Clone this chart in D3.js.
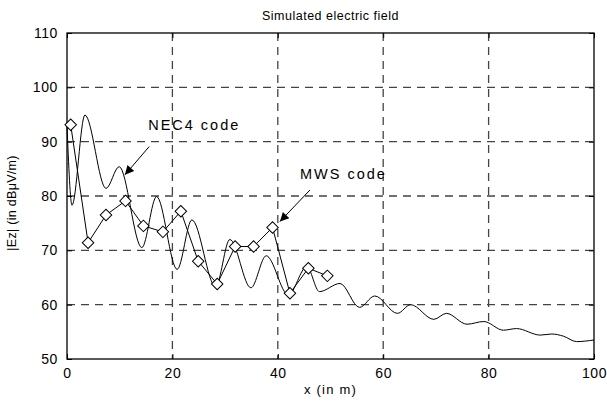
<!DOCTYPE html>
<html><head><meta charset="utf-8">
<script src="https://cdn.jsdelivr.net/npm/d3@7"></script>
<style>
body{margin:0;background:#fff;}
text{font-family:"Liberation Sans",Arial,sans-serif;fill:#000;}
</style></head>
<body><svg id="c" width="607" height="401"></svg>
<script>
const necX = [0,0.95,3.4,7.4,9.9,14.2,17.0,20.9,23.7,28.2,30.9,34.9,37.8,42.0,45.5,47.9,51.8,55.5,58.4,62.7,65.2,69.6,72.0,75.9,79.1,82.8,85.3,89.8,92.0,94.2,96.7,100];
const necY = [93,78.3,94.9,81.4,85.4,70.5,79.9,66.5,75.6,63.3,72.0,63.1,69.0,61.8,67.0,62.4,63.9,59.5,61.6,58.4,60.0,57.3,58.4,56.4,56.9,55.3,55.6,54.4,54.6,54.2,53.2,53.5];
const mwsX = [0.7,4.0,7.4,11.1,14.5,18.2,21.6,24.9,28.5,31.9,35.4,39.0,42.3,45.8,49.4];
const mwsY = [93.1,71.4,76.5,79.1,74.5,73.4,77.2,68.0,63.8,70.7,70.7,74.2,62.1,66.7,65.3];
const xTicks = [0,20,40,60,80,100];
const yTicks = [50,60,70,80,90,100,110];
const title = "Simulated electric field";
const xLabel = "x (in m)";
const yLabel = "|Ez| (in dBμV/m)";
const notes = [
  {text:"NEC4 code", tx:15.4, ty:92.1, ax0:15.6, ay0:89.1, ax1:11.0, ay1:83.9},
  {text:"MWS code", tx:44.2, ty:83.1, ax0:46.1, ay0:81.1, ax1:40.4, ay1:75.3}
];

const svg = d3.select("#c");
const L=67,R=594,T=33,B=359;
const x = d3.scaleLinear().domain([0,100]).range([L,R]);
const y = d3.scaleLinear().domain([50,110]).range([B,T]);

// grid
const g = svg.append("g");
g.selectAll(".gx").data(xTicks.slice(1,-1)).enter().append("line")
 .attr("x1",d=>x(d)).attr("x2",d=>x(d)).attr("y1",T).attr("y2",B)
 .attr("stroke","#444").attr("stroke-width",1.3).attr("stroke-dasharray","8,6");
g.selectAll(".gy").data(yTicks.slice(1,-1)).enter().append("line")
 .attr("y1",d=>y(d)).attr("y2",d=>y(d)).attr("x1",L).attr("x2",R)
 .attr("stroke","#444").attr("stroke-width",1.3).attr("stroke-dasharray","8,6");

// axes
const fs="14px";
const ax = svg.append("g").attr("transform",`translate(0,${B})`).call(d3.axisBottom(x).tickValues(xTicks).tickSize(-5).tickPadding(9));
const axT = svg.append("g").attr("transform",`translate(0,${T})`).call(d3.axisTop(x).tickValues(xTicks).tickSize(-5).tickFormat(""));
const ay = svg.append("g").attr("transform",`translate(${L},0)`).call(d3.axisLeft(y).tickValues(yTicks).tickSize(-5).tickPadding(9));
const ayR = svg.append("g").attr("transform",`translate(${R},0)`).call(d3.axisRight(y).tickValues(yTicks).tickSize(-5).tickFormat(""));
[ax,axT,ay,ayR].forEach(a=>{a.select(".domain").remove();a.selectAll("line").attr("stroke","#000");
  a.selectAll("text").style("font-size",fs).style("letter-spacing","0.6px").style("font-family","'Liberation Sans',Arial,sans-serif").attr("fill","#000");});
svg.append("rect").attr("x",L).attr("y",T).attr("width",R-L).attr("height",B-T).attr("fill","none").attr("stroke","#000").attr("stroke-width",1.3);

// lines
const line = d3.line().x(d=>x(d[0])).y(d=>y(d[1]));
const nec = necX.map((v,i)=>[v,necY[i]]);
svg.append("path").datum(nec).attr("d",line.curve(d3.curveMonotoneX)).attr("fill","none").attr("stroke","#000").attr("stroke-width",1);
const mws = mwsX.map((v,i)=>[v,mwsY[i]]);
svg.append("path").datum(mws).attr("d",d3.line().x(d=>x(d[0])).y(d=>y(d[1]))).attr("fill","none").attr("stroke","#000").attr("stroke-width",1);
const sym = d3.symbol().type(d3.symbolSquare).size(66);
svg.selectAll(".m").data(mws).enter().append("path").attr("d",sym)
 .attr("transform",d=>`translate(${x(d[0])},${y(d[1])}) rotate(45)`)
 .attr("fill","#fff").attr("stroke","#000").attr("stroke-width",1);

// annotations
const defs = svg.append("defs");
defs.append("marker").attr("id","ah").attr("viewBox","0 0 10 10").attr("refX",10).attr("refY",5)
 .attr("markerWidth",14).attr("markerHeight",9).attr("markerUnits","userSpaceOnUse").attr("orient","auto")
 .append("path").attr("d","M0,0L10,5L0,10Z").attr("fill","#000");
notes.forEach(n=>{
  svg.append("line").attr("x1",x(n.ax0)).attr("y1",y(n.ay0)).attr("x2",x(n.ax1)).attr("y2",y(n.ay1))
   .attr("stroke","#000").attr("stroke-width",1).attr("marker-end","url(#ah)");
  svg.append("text").attr("x",x(n.tx)).attr("y",y(n.ty)).text(n.text).style("font-size","14.5px").style("letter-spacing","2px");
});

// titles
svg.append("text").attr("x",(L+R)/2).attr("y",20).attr("text-anchor","middle").text(title).style("font-size","12.5px").style("letter-spacing","0.5px");
svg.append("text").attr("x",(L+R)/2).attr("y",394).attr("text-anchor","middle").text(xLabel).style("font-size","13px").style("letter-spacing","1.2px");
svg.append("text").attr("transform",`translate(16,203) rotate(-90)`).attr("text-anchor","middle").text(yLabel).style("font-size","12.5px").style("letter-spacing","0.3px");
</script></body></html>
